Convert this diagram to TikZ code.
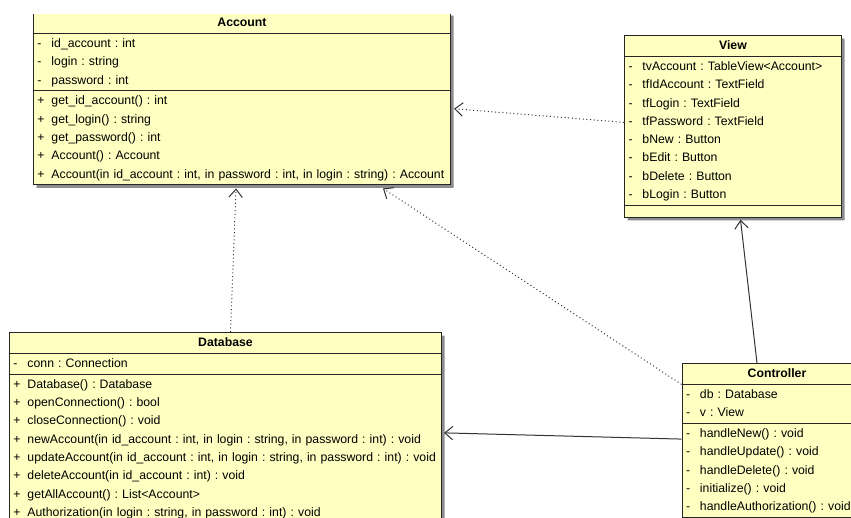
\documentclass[tikz,border=0pt]{standalone}
\usepackage{fontspec}
\setmainfont{Liberation Sans}
\usetikzlibrary{shapes.multipart,shadows,arrows.meta,calc}

\definecolor{classfill}{RGB}{255,255,194}
\newcommand{\mem}[2]{\strut\makebox[10.5pt][l]{#1}\mbox{#2}}
\newcommand{\cname}[1]{\noindent\makebox[\hsize]{\strut\textbf{#1}}}

\begin{document}
\begin{tikzpicture}[x=0.75pt,y=0.75pt,yscale=-1,xscale=1,
    umlclass/.style={rectangle split, rectangle split parts=3, draw=black!85, line width=0.75pt,
      fill=classfill, drop shadow={shadow xshift=2.25pt, shadow yshift=-2.25pt, fill=black!45, opacity=1},
      anchor=north west, inner xsep=3pt, inner ysep=0.6pt, align=left,
      font=\fontsize{9.2}{13.72}\selectfont\frenchspacing},
    dep/.style={draw=black!80, line width=0.75pt, dotted, -{Straight Barb[length=6pt,width=10pt]}},
    assoc/.style={draw=black!80, line width=0.75pt, -{Straight Barb[length=6pt,width=10pt]}}]
  \useasboundingbox (0,0) rectangle (851,518);
  \clip (0,14) rectangle (851,518);

  \node[umlclass, text width=306.75pt] (account) at (33,12) {\cname{Account}
    \nodepart{two}\mem{-}{id\_account : int}\\ \mem{-}{login : string}\\ \mem{-}{password : int}
    \nodepart{three}\mem{+}{get\_id\_account() : int}\\ \mem{+}{get\_login() : string}\\
    \mem{+}{get\_password() : int}\\ \mem{+}{Account() : Account}\\
    \mem{+}{Account(in id\_account : int, in password : int, in login : string) : Account}};

  \node[umlclass, text width=156.75pt] (view) at (624,35) {\cname{View}
    \nodepart{two}\mem{-}{tvAccount : TableView<Account>}\\ \mem{-}{tfIdAccount : TextField}\\
    \mem{-}{tfLogin : TextField}\\ \mem{-}{tfPassword : TextField}\\ \mem{-}{bNew : Button}\\
    \mem{-}{bEdit : Button}\\ \mem{-}{bDelete : Button}\\ \mem{-}{bLogin : Button}
    \nodepart{three}\rule{0pt}{7pt}};

  \node[umlclass, text width=318pt] (database) at (9,332) {\cname{Database}
    \nodepart{two}\mem{-}{conn : Connection}
    \nodepart{three}\mem{+}{Database() : Database}\\ \mem{+}{openConnection() : bool}\\
    \mem{+}{closeConnection() : void}\\
    \mem{+}{newAccount(in id\_account : int, in login : string, in password : int) : void}\\
    \mem{+}{updateAccount(in id\_account : int, in login : string, in password : int) : void}\\
    \mem{+}{deleteAccount(in id\_account : int) : void}\\ \mem{+}{getAllAccount() : List<Account>}\\
    \mem{+}{Authorization(in login : string, in password : int) : void}};

  \node[umlclass, text width=136.5pt] (controller) at (681.5,363) {\cname{Controller}
    \nodepart{two}\mem{-}{db : Database}\\ \mem{-}{v : View}
    \nodepart{three}\mem{-}{handleNew() : void}\\ \mem{-}{handleUpdate() : void}\\
    \mem{-}{handleDelete() : void}\\ \mem{-}{initialize() : void}\\
    \mem{-}{handleAuthorization() : void}};

  \draw[dep] ($(view.west)+(0,-4)$) -- ($(account.east)+(3,10)$);
  \draw[dep] ($(database.north)+(5,0)$) -- ($(account.south)+(-6,3)$);
  \draw[dep] (controller.text split west) -- ($(account.south)+(141,3)$);
  \draw[assoc] ($(controller.north west)+(75.5,0)$) -- ($(view.south)+(7.5,2)$);
  \draw[assoc] ($(controller.two split west)+(0,15.5)$) -- ($(database.east)+(2,5)$);
\end{tikzpicture}
\end{document}
